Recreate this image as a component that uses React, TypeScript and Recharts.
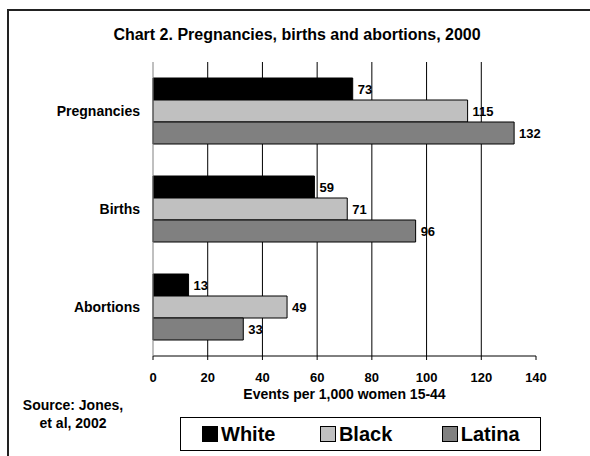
import React from 'react';
import { Bar, BarChart, CartesianGrid, LabelList, XAxis, YAxis } from 'recharts';

const categories = ['Pregnancies', 'Births', 'Abortions'];
const whiteValues = [73, 59, 13];
const blackValues = [115, 71, 49];
const latinaValues = [132, 96, 33];
const xTicks = [0, 20, 40, 60, 80, 100, 120, 140];
const gridValues = [20, 40, 60, 80, 100, 120];

const series = [
    { key: 'white', name: 'White', color: '#000000', width: 120 },
    { key: 'black', name: 'Black', color: '#c0c0c0', width: 124 },
    { key: 'latina', name: 'Latina', color: '#808080', width: 100 },
];

const font = 'Arial, "Liberation Sans", sans-serif';

export default function App() {
    const chartData = categories.map((name, i) => ({
        name,
        white: whiteValues[i],
        black: blackValues[i],
        latina: latinaValues[i],
    }));

    return (
        <div
            style={{
                position: 'absolute',
                left: 0,
                top: 0,
                width: 590,
                height: 456,
                overflow: 'hidden',
                background: '#fff',
                fontFamily: font,
                color: '#000',
            }}
        >
            <div
                style={{
                    position: 'absolute',
                    left: 7,
                    top: 9,
                    width: 620,
                    height: 520,
                    border: '2px solid #222',
                }}
            />
            <div
                style={{
                    position: 'absolute',
                    left: 0,
                    top: 26,
                    width: 594,
                    textAlign: 'center',
                    fontSize: 16,
                    fontWeight: 'bold',
                }}
            >
                Chart 2. Pregnancies, births and abortions, 2000
            </div>
            <div style={{ position: 'absolute', left: 0, top: 0 }}>
                <BarChart
                    width={590}
                    height={456}
                    data={chartData}
                    layout="vertical"
                    margin={{ top: 62, right: 54, bottom: 70, left: 0 }}
                    barCategoryGap={16}
                    barGap={0}
                >
                    <CartesianGrid horizontal={false} verticalValues={gridValues} stroke="#000" />
                    <XAxis
                        type="number"
                        domain={[0, 140]}
                        ticks={xTicks}
                        interval={0}
                        height={30}
                        tickSize={4}
                        tickMargin={13}
                        stroke="#000"
                        tick={{ fill: '#000', fontSize: 13, fontWeight: 'bold', fontFamily: font }}
                        label={{
                            value: 'Events per 1,000 women 15-44',
                            position: 'insideBottom',
                            offset: -13,
                            fill: '#000',
                            fontSize: 14,
                            fontWeight: 'bold',
                            fontFamily: font,
                        }}
                    />
                    <YAxis
                        type="category"
                        dataKey="name"
                        width={153}
                        tickLine={false}
                        tickMargin={7}
                        axisLine={{ stroke: '#808080' }}
                        tick={{ fill: '#000', fontSize: 14, fontWeight: 'bold', fontFamily: font }}
                    />
                    {series.map((s) => (
                        <Bar
                            key={s.key}
                            dataKey={s.key}
                            name={s.name}
                            fill={s.color}
                            stroke="#000"
                            strokeWidth={1}
                            isAnimationActive={false}
                        >
                            <LabelList
                                dataKey={s.key}
                                position="right"
                                offset={5}
                                fill="#000"
                                stroke="none"
                                fontSize={13}
                                fontWeight="bold"
                                fontFamily={font}
                            />
                        </Bar>
                    ))}
                </BarChart>
            </div>
            <div
                style={{
                    position: 'absolute',
                    left: 14,
                    top: 396,
                    width: 118,
                    textAlign: 'center',
                    fontSize: 14,
                    fontWeight: 'bold',
                    lineHeight: '18px',
                }}
            >
                Source: Jones,
                <br />
                et al, 2002
            </div>
            <div
                style={{
                    position: 'absolute',
                    left: 180,
                    top: 417,
                    width: 361,
                    height: 34,
                    border: '1px solid #000',
                    display: 'flex',
                    alignItems: 'center',
                    paddingLeft: 21,
                    boxSizing: 'border-box',
                }}
            >
                {series.map((s) => (
                    <div key={s.key} style={{ display: 'flex', alignItems: 'center', width: s.width }}>
                        <span
                            style={{
                                display: 'inline-block',
                                width: 14,
                                height: 14,
                                background: s.color,
                                border: '1px solid #000',
                                marginRight: 3,
                            }}
                        />
                        <span style={{ fontSize: 20, fontWeight: 'bold', lineHeight: '20px' }}>{s.name}</span>
                    </div>
                ))}
            </div>
        </div>
    );
}
